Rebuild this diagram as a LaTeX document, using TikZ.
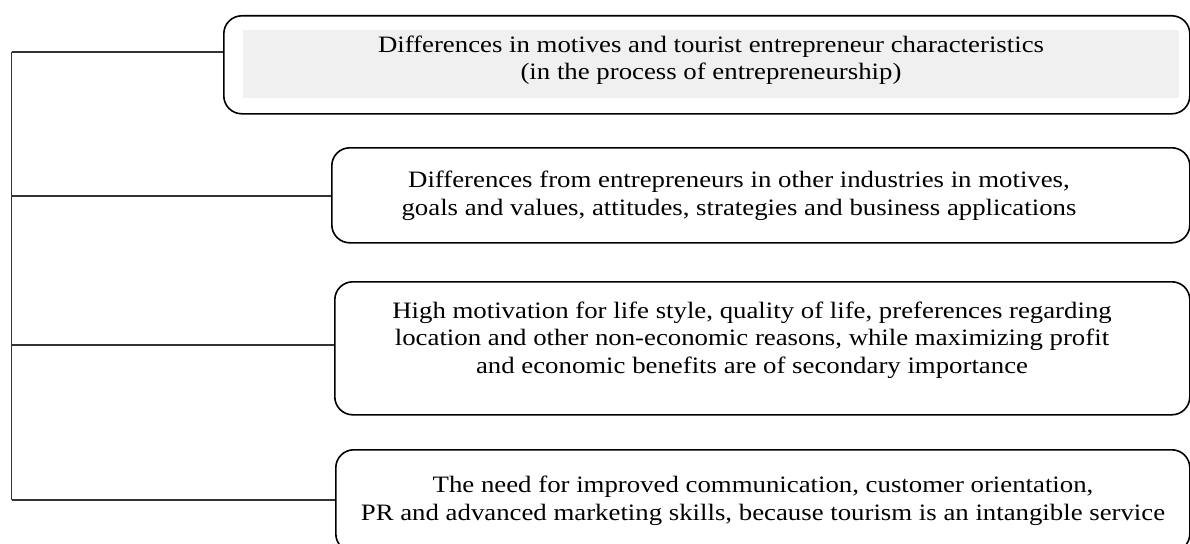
\documentclass[tikz,border=0pt]{standalone}
\usepackage{fontspec}
\setmainfont[FakeStretch=1.14]{Liberation Serif}
\usetikzlibrary{positioning}

\tikzset{
    box/.style={draw, line width=1.6pt, rounded corners=18pt, anchor=north west, inner sep=0pt},
    txt/.style={align=center, inner sep=0pt, font=\fontsize{23.5}{27.5}\selectfont},
    link/.style={line width=1.3pt, draw=black!80}
}

\begin{document}
\begin{tikzpicture}[x=1pt, y=-1pt]

    \useasboundingbox (0,0) rectangle (1190,543);
    \clip (0,0) rectangle (1190,543);

    % Motives and characteristics (top box, shaded text area)
    \node[box, minimum width=966pt, minimum height=98pt] (motives) at (223,15) {};
    \fill[black!6] (243,30) rectangle (1179,98);
    \node[txt] (motivestxt) at (711,60) {Differences in motives and tourist entrepreneur characteristics\\(in the process of entrepreneurship)};

    % Differences from other industries
    \node[box, minimum width=858pt, minimum height=95pt] (industries) at (331,147) {};
    \node[txt] (industriestxt) at (739,196) {Differences from entrepreneurs in other industries in motives,\\goals and values, attitudes, strategies and business applications};

    % Life style motivation
    \node[box, minimum width=855pt, minimum height=133pt] (lifestyle) at (334,281) {};
    \node[txt] (lifestyletxt) at (752,340) {High motivation for life style, quality of life, preferences regarding\\location and other non-economic reasons, while maximizing profit\\and economic benefits are of secondary importance};

    % Communication and marketing skills
    \node[box, minimum width=854pt, minimum height=102pt] (marketing) at (335,449) {};
    \node[txt] (marketingtxt) at (763,501) {The need for improved communication, customer orientation,\\PR and advanced marketing skills, because tourism is an intangible service};

    % Trunk on the left and its branches
    \coordinate (j1) at (11.5,52);
    \coordinate (j2) at (11.5,196);
    \coordinate (j3) at (11.5,345);
    \coordinate (j4) at (11.5,500);
    \draw[link] (j1) -- (j4);
    \foreach \j/\b in {j1/motives, j2/industries, j3/lifestyle, j4/marketing} {
        \draw[link] (\j) -- (\j -| \b.west);
    }

\end{tikzpicture}
\end{document}
